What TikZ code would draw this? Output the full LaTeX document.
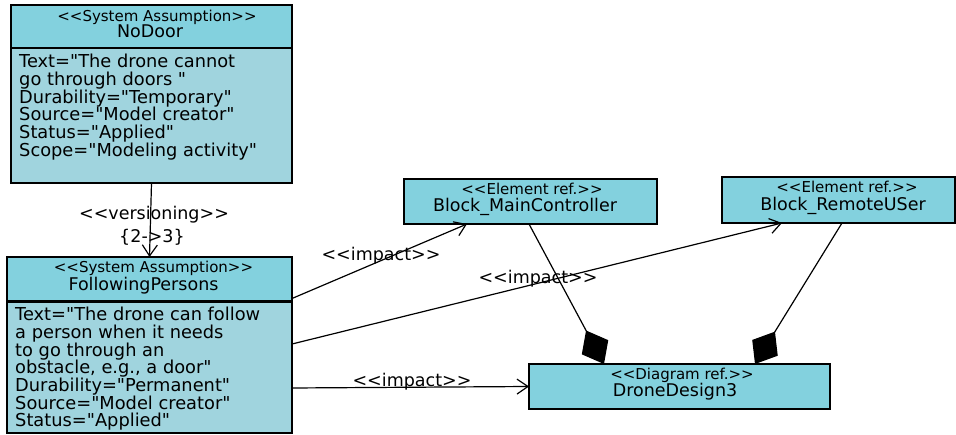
\documentclass[tikz,border=0pt]{standalone}
\usepackage{fontspec}
\setmainfont{DejaVu Sans}[Ligatures=TeXOff]
\usetikzlibrary{arrows.meta,calc}
\definecolor{hdr}{RGB}{131,209,222}
\definecolor{bdy}{RGB}{160,212,222}
\begin{document}
\begin{tikzpicture}[x=1pt,y=-1pt,
  box/.style={draw=black,line width=1.2pt,inner sep=0pt,outer sep=0pt,anchor=north west},
  hbox/.style={box,fill=hdr},
  bbox/.style={box,fill=bdy},
  stereo/.style={font=\fontsize{15}{17}\selectfont,anchor=base,inner sep=0pt},
  nm/.style={font=\fontsize{17.5}{20}\selectfont,anchor=base,inner sep=0pt},
  bodytxt/.style={font=\fontsize{17.8}{17.7}\selectfont\frenchspacing,align=left,anchor=north west,inner sep=0pt},
  lbl/.style={font=\fontsize{17.5}{20}\selectfont,anchor=base,inner sep=0pt},
  conn/.style={line width=1.2pt},
  openarrow/.style={conn,-{Straight Barb[length=11pt,width=15pt,line width=1.2pt]}},
  comp/.style={conn,-{Diamond[length=38pt,width=30pt,fill=black]}}]
\useasboundingbox (0,0) rectangle (956,435);
% boxes
\node[hbox,minimum width=281pt,minimum height=43pt] (ndH) at (11,5) {};
\node[bbox,minimum width=281pt,minimum height=135pt] (ndB) at (11,48) {};
\node[hbox,minimum width=285pt,minimum height=43.5pt] (fpH) at (7,257) {};
\node[bbox,minimum width=285pt,minimum height=131pt] (fpB) at (7,302) {};
\node[hbox,minimum width=253pt,minimum height=45pt] (mc) at (404,179) {};
\node[hbox,minimum width=233pt,minimum height=46pt] (rm) at (722,177) {};
\node[hbox,minimum width=301pt,minimum height=45pt] (dd) at (529,364) {};
% header texts
\node[stereo] (ndS) at (157,21.5) {<<System Assumption>>};
\node[nm] (ndN) at (150,37.4) {NoDoor};
\node[stereo] (fpS) at (153.5,272.5) {<<System Assumption>>};
\node[nm] (fpN) at (143.5,290.4) {FollowingPersons};
\node[stereo] (mcS) at (532,194.5) {<<Element ref.>>};
\node[nm] (mcN) at (525,211.4) {Block\_MainController};
\node[stereo] (rmS) at (847,192.5) {<<Element ref.>>};
\node[nm] (rmN) at (843,210.4) {Block\_RemoteUSer};
\node[stereo] (ddS) at (682,379.5) {<<Diagram ref.>>};
\node[nm] (ddN) at (675,396.4) {DroneDesign3};
% body texts
\node[bodytxt] (ndT) at (19,54) {Text="The drone cannot\\go through doors "\\Durability="Temporary"\\Source="Model creator"\\Status="Applied"\\Scope="Modeling activity"};
\node[bodytxt] (fpT) at (15,307) {Text="The drone can follow\\a person when it needs\\to go through an\\obstacle, e.g., a door"\\Durability="Permanent"\\Source="Model creator"\\Status="Applied"};
% connector labels
\node[lbl] (lv) at (154,219.5) {<<versioning>>};
\node[lbl] (lv2) at (152,242.4) {\{2->3\}};
\node[lbl] (li1) at (381,260.5) {<<impact>>};
\node[lbl] (li2) at (538,283.5) {<<impact>>};
\node[lbl] (li3) at (412,386.5) {<<impact>>};
% connectors
\draw[openarrow] (ndB.south) -- (fpH.north);
\draw[openarrow] ($(fpH.south east)+(0,-2)$) -- ($(mc.south west)+(63,0)$);
\draw[openarrow] ($(fpB.north east)+(0,42)$) -- ($(rm.south west)+(60,0)$);
\draw[openarrow] ($(fpB.north east)+(0,86)$) -- (dd.west);
\draw[comp] ($(mc.south west)+(125,0)$) -- ($(dd.north west)+(75,0)$);
\draw[comp] ($(rm.south west)+(120,0)$) -- ($(dd.north west)+(226,0)$);
\end{tikzpicture}
\end{document}
